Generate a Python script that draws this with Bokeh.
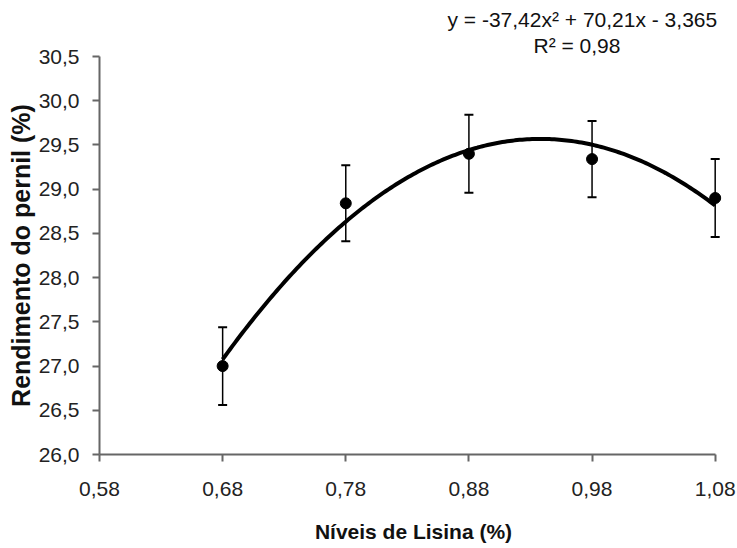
from bokeh.plotting import figure
from bokeh.models import FixedTicker, Whisker, ColumnDataSource, Range1d, Title
from bokeh.embed import file_html
from bokeh.resources import INLINE
import numpy as np

# Data
lysine_levels = [0.68, 0.78, 0.88, 0.98, 1.08]
ham_yield = [27.00, 28.84, 29.40, 29.34, 28.90]
yield_err = [0.44, 0.43, 0.44, 0.43, 0.44]

# Trendline coefficients shown on the chart
coef_a = -37.42
coef_b = 70.21
coef_c = -3.365

x_ticks = [0.58, 0.68, 0.78, 0.88, 0.98, 1.08]
x_tick_labels = ["0,58", "0,68", "0,78", "0,88", "0,98", "1,08"]
y_ticks = [26.0, 26.5, 27.0, 27.5, 28.0, 28.5, 29.0, 29.5, 30.0, 30.5]
y_tick_labels = ["26,0", "26,5", "27,0", "27,5", "28,0", "28,5", "29,0", "29,5", "30,0", "30,5"]

eq_text = "y = -37,42x² + 70,21x - 3,365"
r2_text = "R² = 0,98"

FONT = "Liberation Sans"
AXIS_COLOR = "#666666"

p = figure(width=737, height=548, output_backend="svg", toolbar_location=None,
           x_range=Range1d(0.58, 1.09), y_range=Range1d(26.0, 30.5),
           min_border_left=99, min_border_right=10, min_border_top=56, min_border_bottom=94)
p.background_fill_color = "white"
p.border_fill_color = "white"
p.outline_line_color = None
p.grid.grid_line_color = None

p.xaxis.ticker = FixedTicker(ticks=x_ticks)
p.yaxis.ticker = FixedTicker(ticks=y_ticks)
p.xaxis.major_label_overrides = dict(zip(x_ticks, x_tick_labels))
p.yaxis.major_label_overrides = dict(zip(y_ticks, y_tick_labels))
p.xaxis.bounds = (x_ticks[0], x_ticks[-1])

for ax in (p.xaxis, p.yaxis):
    ax.axis_line_color = AXIS_COLOR
    ax.axis_line_width = 2
    ax.major_tick_line_color = AXIS_COLOR
    ax.major_tick_line_width = 2
    ax.minor_tick_line_color = None
    ax.major_tick_in = 0
    ax.major_tick_out = 7
    ax.major_label_text_font = FONT
    ax.major_label_text_font_size = "21px"
    ax.major_label_text_color = "#222222"
    ax.axis_label_text_font = FONT
    ax.axis_label_text_font_style = "bold"
    ax.axis_label_text_color = "#111111"

p.xaxis.axis_label = "Níveis de Lisina (%)"
p.yaxis.axis_label = "Rendimento do pernil (%)"
p.xaxis.axis_label_text_font_size = "21px"
p.yaxis.axis_label_text_font_size = "25px"
p.yaxis.major_label_standoff = 13
p.xaxis.major_label_standoff = 20
p.yaxis.axis_label_standoff = 1
p.xaxis.axis_label_standoff = 21

# Trendline from the displayed equation
xs = np.linspace(min(lysine_levels), max(lysine_levels), 200)
ys = coef_a * xs**2 + coef_b * xs + coef_c
p.line(xs, ys, line_color="black", line_width=4)

# Error bars
src = ColumnDataSource(dict(
    x=lysine_levels,
    upper=[v + e for v, e in zip(ham_yield, yield_err)],
    lower=[v - e for v, e in zip(ham_yield, yield_err)],
))
w = Whisker(base="x", upper="upper", lower="lower", source=src,
            line_color="black", line_width=1.5, dimension="height")
for head in (w.upper_head, w.lower_head):
    head.size = 9
    head.line_color = "black"
    head.line_width = 2
p.add_layout(w)

p.scatter(lysine_levels, ham_yield, size=11, color="black")

# Regression equation (drawn above the plot frame)
p.add_layout(Title(text=r2_text, align="left", offset=434, standoff=0,
                   text_font=FONT, text_font_size="21px", text_font_style="normal",
                   text_color="#111111"), "above")
p.add_layout(Title(text=eq_text, align="left", offset=348, standoff=2,
                   text_font=FONT, text_font_size="21px", text_font_style="normal",
                   text_color="#111111"), "above")

open("out.html", "w").write(file_html(p, INLINE))
